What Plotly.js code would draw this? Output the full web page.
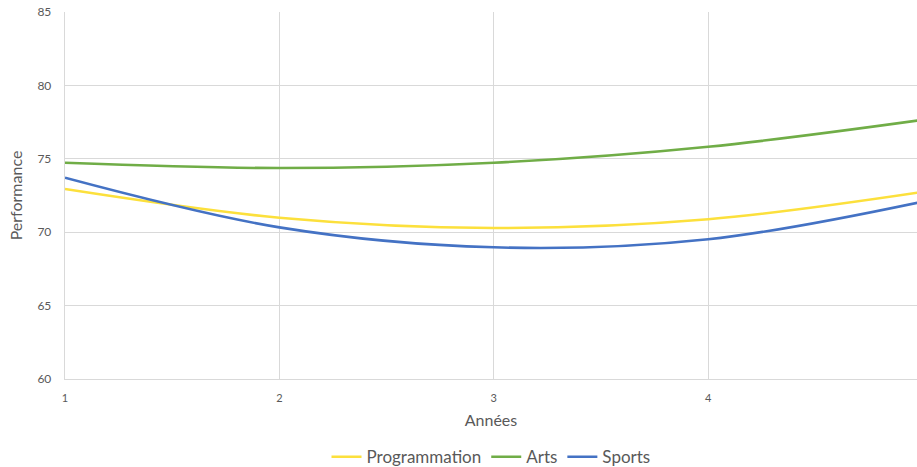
<!DOCTYPE html>
<html>
<head>
<meta charset="utf-8">
<script src="https://cdn.plot.ly/plotly-3.0.1.min.js"></script>
<style>
  html, body { margin: 0; padding: 0; background: #ffffff; }
  #chart { width: 917px; height: 467px; }
</style>
</head>
<body>
<div id="chart"></div>
<script>
// Years on the horizontal axis
const annees = [1, 2, 3, 4, 5];

// Performance per subject
const programmation = [72.94, 70.99, 70.29, 70.88, 72.74];
const arts          = [74.73, 74.37, 74.73, 75.82, 77.65];
const sports        = [73.71, 70.33, 68.97, 69.52, 72.08];

const yTicks = [60, 65, 70, 75, 80, 85];
const xTicks = [1, 2, 3, 4];

const FONT = 'Lato, "Open Sans", sans-serif';
const TXT = '#595959';

function serie(name, y, color) {
  return {
    type: 'scatter',
    mode: 'lines',
    name: name,
    x: annees,
    y: y,
    line: { color: color, width: 2.6, shape: 'spline', smoothing: 1 },
    hoverinfo: 'skip'
  };
}

const data = [
  serie('Programmation', programmation, '#FCE03C'),
  serie('Arts', arts, '#70AD47'),
  serie('Sports', sports, '#4472C4')
];

const layout = {
  width: 917,
  height: 467,
  margin: { l: 65, r: 0, t: 12, b: 88, autoexpand: false },
  paper_bgcolor: '#ffffff',
  plot_bgcolor: '#ffffff',
  font: { family: FONT, color: TXT },
  showlegend: true,
  legend: {
    orientation: 'h',
    x: 0.5, xanchor: 'center',
    y: -0.213, yanchor: 'middle',
    font: { family: FONT, size: 17, color: TXT },
    itemwidth: 30,
    traceorder: 'normal'
  },
  xaxis: {
    range: [1, 4.974],
    tickvals: xTicks,
    ticktext: xTicks.map(String),
    tickfont: { family: FONT, size: 11, color: TXT },
    ticks: 'outside', ticklen: 8, tickcolor: 'rgba(0,0,0,0)',
    showgrid: true, gridcolor: '#d9d9d9', gridwidth: 1.3,
    showline: true, linecolor: '#d9d9d9', linewidth: 1.3,
    zeroline: false,
    title: { text: 'Années', font: { family: FONT, size: 16, color: TXT }, standoff: 12 }
  },
  yaxis: {
    range: [60, 85],
    tickvals: yTicks,
    tickfont: { family: FONT, size: 12, color: TXT },
    ticks: 'outside', ticklen: 10, tickcolor: 'rgba(0,0,0,0)',
    showgrid: true, gridcolor: '#d9d9d9', gridwidth: 1.3,
    showline: true, linecolor: '#d9d9d9', linewidth: 1.3,
    zeroline: false,
    title: { text: 'Performance', font: { family: FONT, size: 16, color: TXT }, standoff: 10 }
  }
};

Plotly.newPlot('chart', data, layout, { displayModeBar: false, staticPlot: true });
</script>
</body>
</html>
